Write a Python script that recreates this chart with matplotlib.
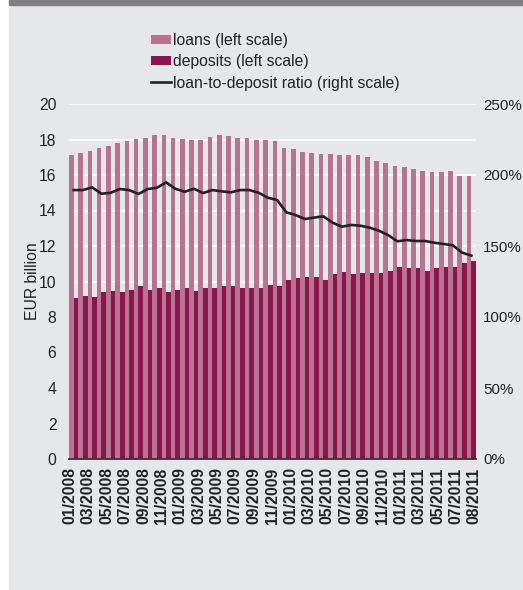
import matplotlib.pyplot as plt
import matplotlib.patches as mpatches
import numpy as np

# monthly data 01/2008 - 08/2011
loans = [17.1, 17.25, 17.35, 17.5, 17.65, 17.8, 17.9, 18.05, 18.1, 18.25, 18.25, 18.1,
         18.05, 17.95, 17.95, 18.15, 18.25, 18.2, 18.1, 18.1, 18.0, 17.95, 17.9, 17.5,
         17.45, 17.3, 17.25, 17.2, 17.2, 17.15, 17.1, 17.1, 17.0, 16.8, 16.7, 16.5,
         16.45, 16.35, 16.2, 16.15, 16.15, 16.2, 15.95, 15.95]
deposits = [9.07, 9.18, 9.13, 9.41, 9.47, 9.41, 9.52, 9.75, 9.52, 9.63, 9.41, 9.52,
            9.63, 9.47, 9.63, 9.63, 9.75, 9.75, 9.63, 9.63, 9.63, 9.80, 9.75, 10.08,
            10.2, 10.25, 10.25, 10.08, 10.42, 10.54, 10.42, 10.48, 10.48, 10.48, 10.59, 10.82,
            10.76, 10.76, 10.59, 10.76, 10.82, 10.82, 11.04, 11.15]
ratio = [189.4, 189.4, 191.3, 186.8, 187.5, 190.1, 189.4, 186.6, 190.1, 191.0, 194.8, 190.3,
         188.2, 190.3, 187.3, 189.4, 188.5, 187.8, 189.4, 189.4, 187.5, 184.0, 182.4, 173.7,
         171.8, 169.0, 170.0, 170.9, 166.4, 163.6, 164.8, 164.3, 162.9, 160.8, 157.7, 153.3,
         154.2, 153.5, 153.5, 152.3, 151.4, 150.5, 145.3, 143.2]
months = [f"{m:02d}/{y}" for y in range(2008, 2012) for m in range(1, 13)][:44]
tick_labels = [months[i] for i in range(0, 43, 2)] + [months[43]]

plt.rcParams['font.family'] = ['Liberation Sans', 'DejaVu Sans']
fs = 11.3

bg = '#e6e7e9'
c_loans = '#b87390'
c_dep = '#89144e'

fig = plt.figure(figsize=(5.23, 5.90), dpi=100)
fig.patch.set_facecolor('white')
# grey panel and dark top band
fig.add_artist(mpatches.Rectangle((9 / 523, 0), 1, 1, transform=fig.transFigure,
                                  color=bg, zorder=-10))
fig.add_artist(mpatches.Rectangle((9 / 523, 1 - 5 / 590), 1, 5 / 590, transform=fig.transFigure,
                                  color='#808083', zorder=-9))

ax = fig.add_axes([69 / 523, 1 - 459 / 590, 407 / 523, 355 / 590])
ax.set_facecolor(bg)
x = np.arange(len(loans))
b1 = ax.bar(x - 0.25, loans, width=0.5, color=c_loans, zorder=2)
b2 = ax.bar(x + 0.25, deposits, width=0.5, color=c_dep, zorder=3)
ax.set_xlim(-0.5, len(loans) - 0.5)
ax.set_ylim(0, 20)
ax.set_yticks(np.arange(0, 21, 2))
ax.yaxis.grid(True, color='white', linewidth=1.2, zorder=0)
ax.set_axisbelow(True)
# category labels are spread evenly across the axis
ax.set_xticks(np.linspace(-0.4, 43.3, len(tick_labels)))
ax.set_xticklabels(tick_labels, rotation=90, fontweight='bold', fontsize=fs)
ax.tick_params(axis='both', length=0, labelsize=fs, colors='#222222')
ax.tick_params(axis='y', pad=9)
ax.tick_params(axis='x', pad=6)
ax.set_ylabel('EUR billion', fontsize=fs, color='#222222', labelpad=-0.5)
for s in ['top', 'right', 'left']:
    ax.spines[s].set_visible(False)
ax.spines['bottom'].set_color('#333333')
ax.spines['bottom'].set_linewidth(1.3)
ax.spines['bottom'].set_zorder(5)

ax2 = ax.twinx()
ln, = ax2.plot(x, ratio, color='#222222', linewidth=1.9, zorder=4)
ax2.set_ylim(0, 250)
ax2.set_yticks(np.arange(0, 251, 50))
ax2.set_yticklabels([f"{v}%" for v in range(0, 251, 50)])
ax2.tick_params(axis='y', length=0, labelsize=10.9, colors='#222222', pad=5)
for s in ax2.spines.values():
    s.set_visible(False)

fig.legend([b1, b2, ln], ['loans (left scale)', 'deposits (left scale)',
                          'loan-to-deposit ratio (right scale)'],
           loc='upper left', bbox_to_anchor=(151 / 523, 1 - 33 / 590), frameon=False,
           fontsize=fs, handlelength=1.25, handleheight=0.55, handletextpad=0.12,
           labelspacing=0.4, borderpad=0, borderaxespad=0, labelcolor='#222222')

fig.savefig('out.png', dpi=100, facecolor=fig.get_facecolor())
